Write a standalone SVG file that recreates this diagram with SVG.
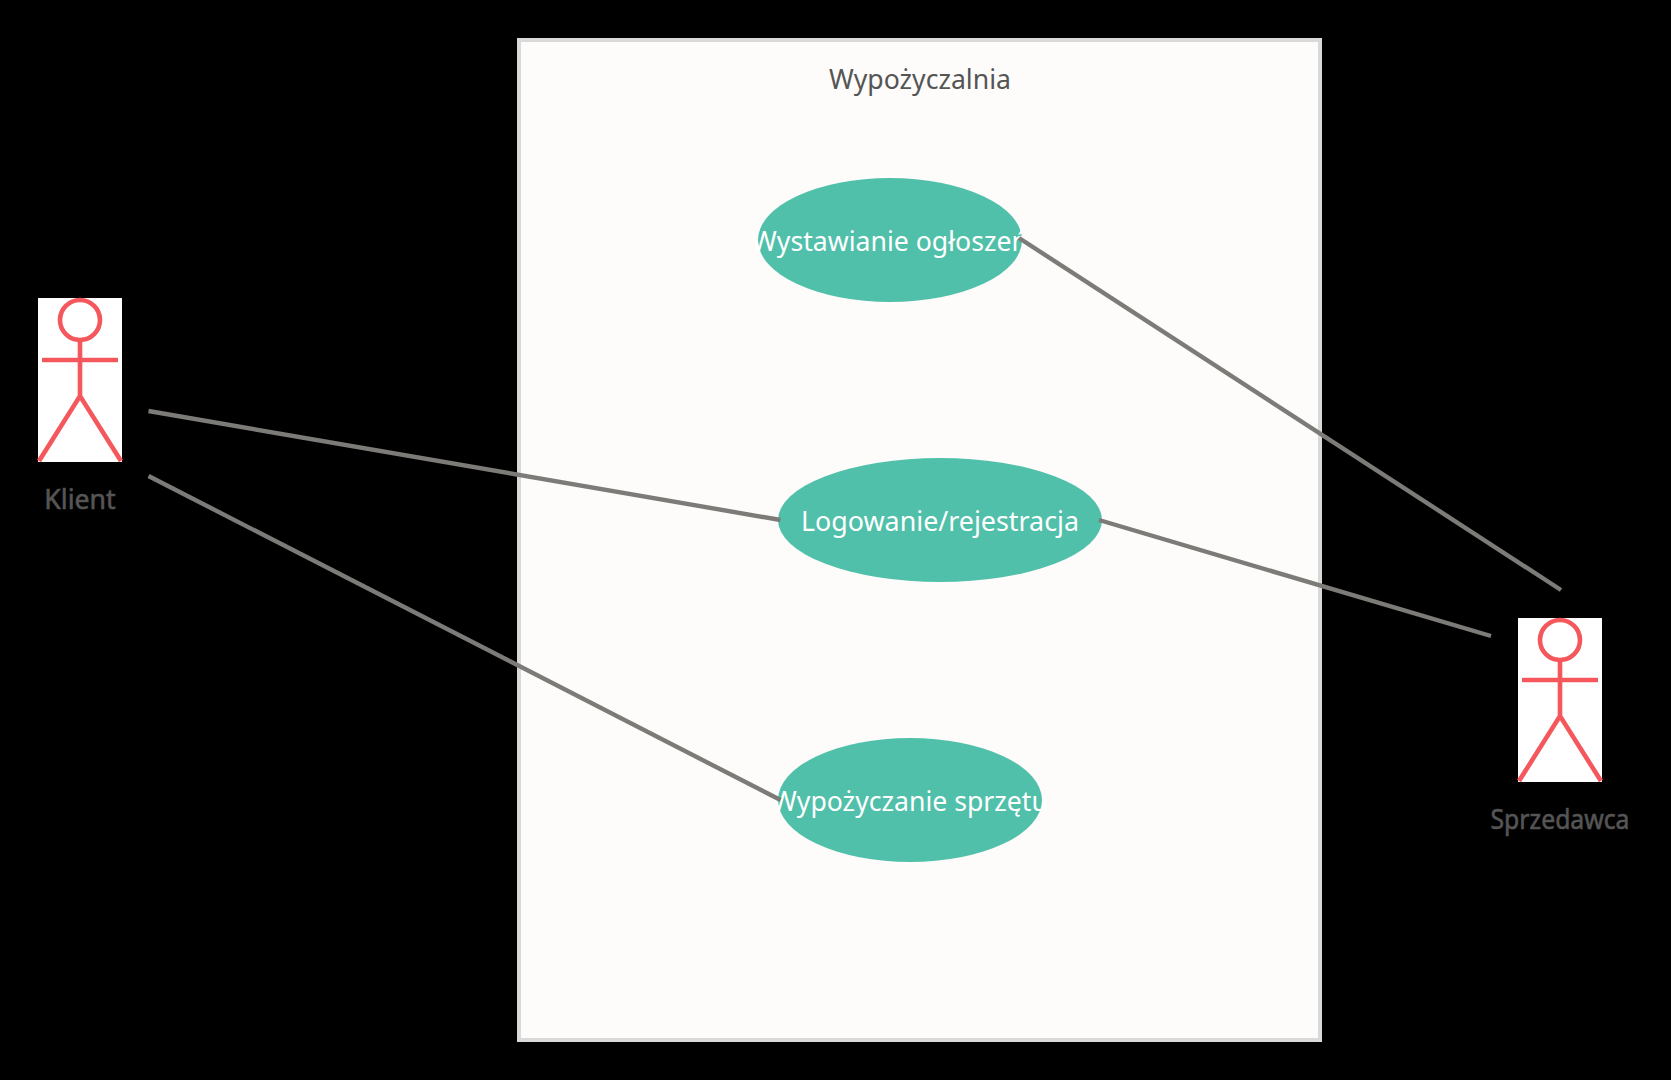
<svg xmlns="http://www.w3.org/2000/svg" width="1671" height="1080" viewBox="0 0 1671 1080">
<style>
text{font-family:"Noto Sans","Open Sans",sans-serif;font-size:26.64px;text-anchor:middle}
.uc{fill:#51c0aa}
.ut{fill:#fff}
.lab{fill:#555}
.act{stroke:#555;stroke-width:.6}
.conn{stroke:#7d7b78;stroke-width:4.4;fill:none}
.fig{fill:none;stroke:#f4585c;stroke-width:4.6}
</style>
<defs>
<g id="stick">
<rect x="-42" y="0" width="84" height="164" fill="#fff"/>
<circle class="fig" cx="0" cy="22" r="20"/>
<path class="fig" d="M0 42V98M-38 62H38M-41 163L0 98L41 163"/>
</g>
</defs>
<rect width="1671" height="1080" fill="#000"/>
<g id="system">
<rect x="519" y="40" width="801" height="1000" fill="#fdfcfa" stroke="#d9d9d9" stroke-width="4"/>
<text x="920" y="89" class="lab">Wypożyczalnia</text>
</g>
<g id="uc-ogloszenia">
<ellipse class="uc" cx="890" cy="240" rx="132" ry="62"/>
<text x="890" y="251" class="ut">Wystawianie ogłoszeń</text>
</g>
<g id="uc-logowanie">
<ellipse class="uc" cx="940" cy="520" rx="162" ry="62"/>
<text x="940" y="531" class="ut" textLength="278" lengthAdjust="spacingAndGlyphs">Logowanie/rejestracja</text>
</g>
<g id="uc-wypozyczanie">
<ellipse class="uc" cx="910" cy="800" rx="132" ry="62"/>
<text x="910" y="811" class="ut">Wypożyczanie sprzętu</text>
</g>
<g id="connectors">
<path class="conn" d="M148.500 411L780.500 520"/>
<path class="conn" d="M148.500 476L780.500 800"/>
<path class="conn" d="M1019 238L1561 590"/>
<path class="conn" d="M1099 520L1491 636"/>
</g>
<g id="actor-klient">
<use href="#stick" x="80" y="298"/>
<text x="80" y="509" class="lab act">Klient</text>
</g>
<g id="actor-sprzedawca">
<use href="#stick" x="1560" y="618"/>
<text x="1560" y="829" class="lab act" textLength="139" lengthAdjust="spacingAndGlyphs">Sprzedawca</text>
</g>
</svg>
